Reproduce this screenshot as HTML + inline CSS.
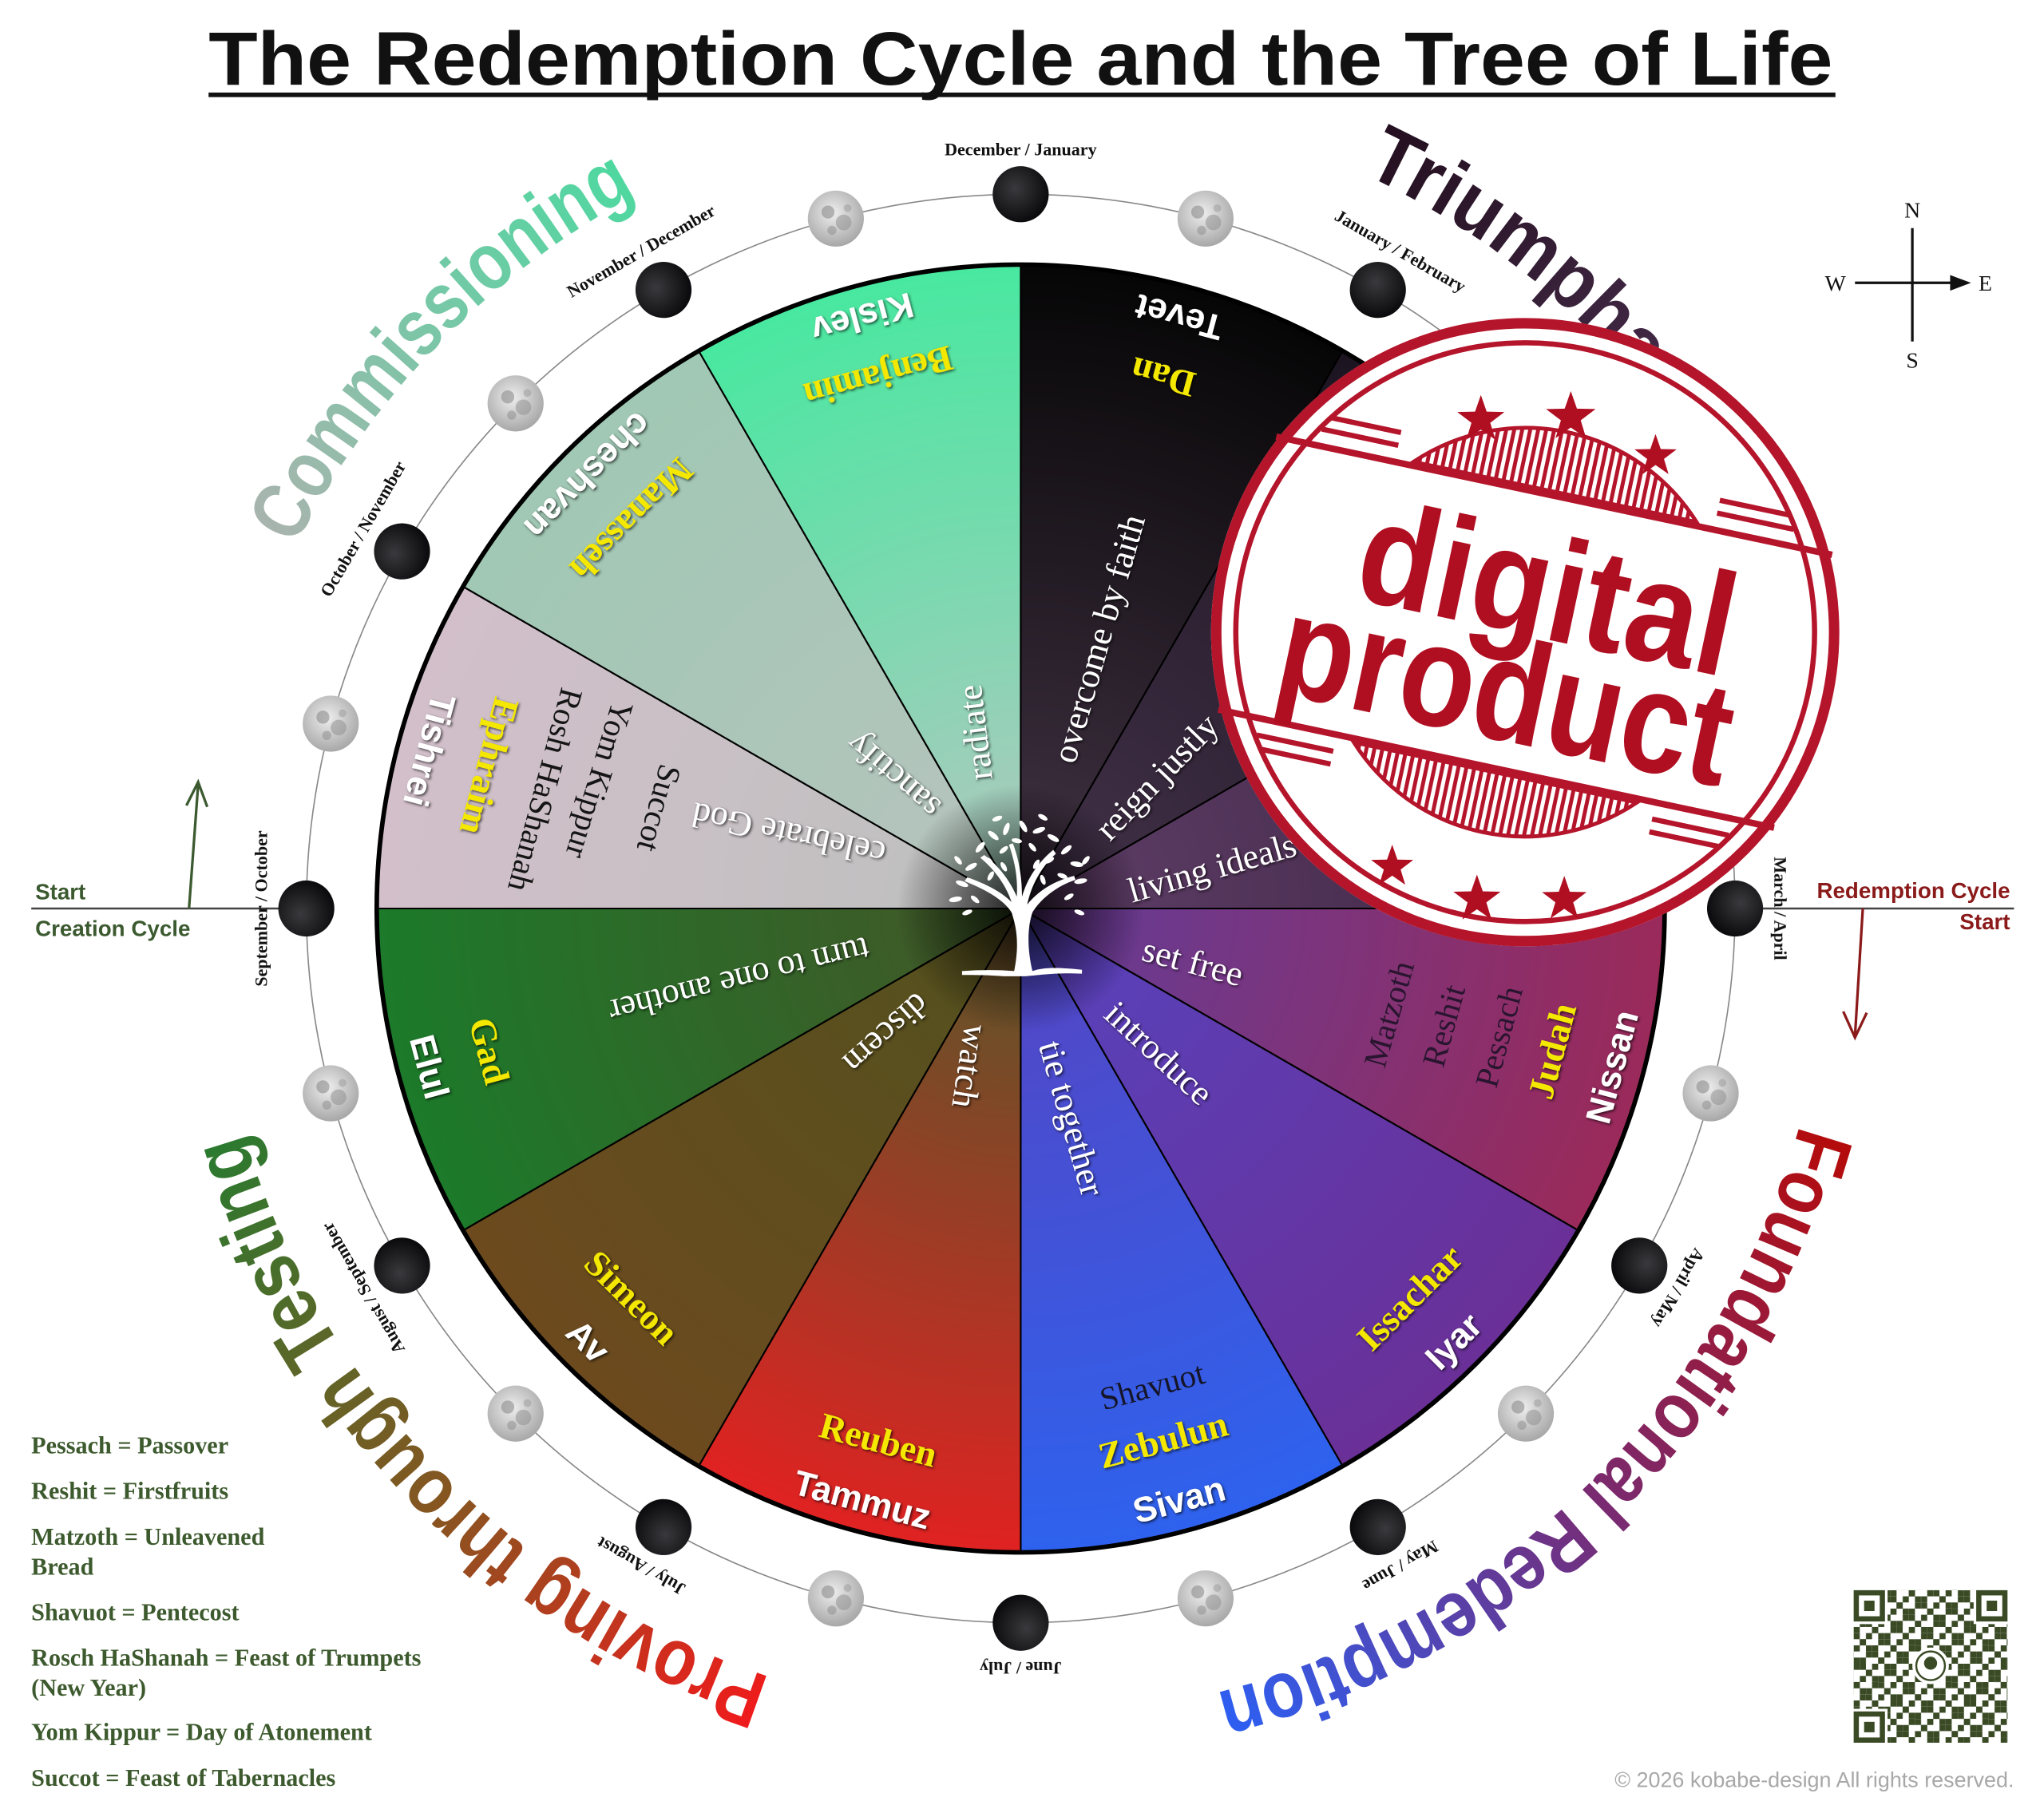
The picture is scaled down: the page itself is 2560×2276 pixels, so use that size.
<!DOCTYPE html>
<html><head><meta charset="utf-8"><style>
html,body{margin:0;padding:0;background:#fff;}
svg{display:block;}
</style></head><body>
<svg xmlns="http://www.w3.org/2000/svg" xmlns:xlink="http://www.w3.org/1999/xlink" width="2560" height="2276" viewBox="0 0 1568 1394" preserveAspectRatio="none">
<defs>
  <radialGradient id="g0" gradientUnits="userSpaceOnUse" cx="783" cy="697" r="494"><stop offset="0.15" stop-color="#3a2c3c"/><stop offset="1" stop-color="#060606"/></radialGradient>
  <radialGradient id="g1" gradientUnits="userSpaceOnUse" cx="783" cy="697" r="494"><stop offset="0.15" stop-color="#3e2e44"/><stop offset="1" stop-color="#1c1420"/></radialGradient>
  <radialGradient id="g2" gradientUnits="userSpaceOnUse" cx="783" cy="697" r="494"><stop offset="0.15" stop-color="#5a3a62"/><stop offset="1" stop-color="#3a2440"/></radialGradient>
  <radialGradient id="g3" gradientUnits="userSpaceOnUse" cx="783" cy="697" r="494"><stop offset="0.15" stop-color="#6a3a90"/><stop offset="1" stop-color="#9a2a5a"/></radialGradient>
  <radialGradient id="g4" gradientUnits="userSpaceOnUse" cx="783" cy="697" r="494"><stop offset="0.15" stop-color="#5a40b8"/><stop offset="1" stop-color="#6a3098"/></radialGradient>
  <radialGradient id="g5" gradientUnits="userSpaceOnUse" cx="783" cy="697" r="494"><stop offset="0.15" stop-color="#5048c8"/><stop offset="1" stop-color="#2e62ee"/></radialGradient>
  <radialGradient id="g6" gradientUnits="userSpaceOnUse" cx="783" cy="697" r="494"><stop offset="0.15" stop-color="#6a5028"/><stop offset="1" stop-color="#e02222"/></radialGradient>
  <radialGradient id="g7" gradientUnits="userSpaceOnUse" cx="783" cy="697" r="494"><stop offset="0.15" stop-color="#56501e"/><stop offset="1" stop-color="#6c4a1e"/></radialGradient>
  <radialGradient id="g8" gradientUnits="userSpaceOnUse" cx="783" cy="697" r="494"><stop offset="0.15" stop-color="#3e5a28"/><stop offset="1" stop-color="#1c7a2a"/></radialGradient>
  <radialGradient id="g9" gradientUnits="userSpaceOnUse" cx="783" cy="697" r="494"><stop offset="0.15" stop-color="#c0c0c0"/><stop offset="1" stop-color="#d2bfca"/></radialGradient>
  <radialGradient id="g10" gradientUnits="userSpaceOnUse" cx="783" cy="697" r="494"><stop offset="0.15" stop-color="#b4c4bc"/><stop offset="1" stop-color="#a0c8b4"/></radialGradient>
  <radialGradient id="g11" gradientUnits="userSpaceOnUse" cx="783" cy="697" r="494"><stop offset="0.15" stop-color="#a4ccbc"/><stop offset="1" stop-color="#48e8a0"/></radialGradient>
  <radialGradient id="dark" cx="0.5" cy="0.5" r="0.5"><stop offset="0" stop-color="#000" stop-opacity="0.85"/><stop offset="0.5" stop-color="#000" stop-opacity="0.45"/><stop offset="1" stop-color="#000" stop-opacity="0"/></radialGradient>
  <radialGradient id="dmoon" cx="0.4" cy="0.4" r="0.6"><stop offset="0" stop-color="#3a3a3e"/><stop offset="1" stop-color="#0c0c0e"/></radialGradient>
  <radialGradient id="lmoon" cx="0.45" cy="0.4" r="0.6"><stop offset="0" stop-color="#eeeeee"/><stop offset="1" stop-color="#a8a8a8"/></radialGradient>
  <g id="dm"><circle r="21.5" fill="url(#dmoon)"/></g>
  <g id="lm"><circle r="21.5" fill="url(#lmoon)"/><circle cx="-6" cy="-5" r="5" fill="#8c8c8c" opacity="0.6"/><circle cx="6" cy="3" r="6" fill="#8c8c8c" opacity="0.5"/><circle cx="-3" cy="9" r="3.5" fill="#8c8c8c" opacity="0.5"/><circle cx="9" cy="-8" r="3" fill="#999" opacity="0.5"/></g>
  <path id="arcC" d="M783,75 A622,622 0 1,1 783,1319 A622,622 0 1,1 783,75"/>
  <path id="arcF" d="M783,77 A620,620 0 1,1 783,1317 A620,620 0 1,1 783,77"/>
  <linearGradient id="tc" gradientUnits="userSpaceOnUse" x1="200" y1="400" x2="480" y2="130"><stop offset="0" stop-color="#a8b4ae"/><stop offset="1" stop-color="#4ed8a0"/></linearGradient>
  <linearGradient id="tt" gradientUnits="userSpaceOnUse" x1="1060" y1="110" x2="1330" y2="330"><stop offset="0" stop-color="#241020"/><stop offset="1" stop-color="#4a3050"/></linearGradient>
  <linearGradient id="tf" gradientUnits="userSpaceOnUse" x1="1400" y1="870" x2="950" y2="1320"><stop offset="0" stop-color="#b40c0c"/><stop offset="0.5" stop-color="#7a2a70"/><stop offset="1" stop-color="#2e5ef0"/></linearGradient>
  <linearGradient id="tp" gradientUnits="userSpaceOnUse" x1="570" y1="1320" x2="160" y2="880"><stop offset="0" stop-color="#ee1c1c"/><stop offset="0.45" stop-color="#8a5420"/><stop offset="1" stop-color="#2a7a30"/></linearGradient>
  <filter id="sh" x="-10%" y="-30%" width="120%" height="160%"><feDropShadow dx="1" dy="1" stdDeviation="1" flood-color="#000" flood-opacity="0.7"/></filter>
  <polygon id="star" points="0,-1 0.235,-0.324 0.951,-0.309 0.38,0.124 0.588,0.809 0,0.4 -0.588,0.809 -0.38,0.124 -0.951,-0.309 -0.235,-0.324"/>
  <pattern id="hatch" width="6" height="6" patternUnits="userSpaceOnUse"><rect width="3" height="6" fill="#b5152b"/></pattern>
  <pattern id="qa" width="14.1" height="14.1" patternUnits="userSpaceOnUse" x="1422" y="1220"><rect x="0" y="0" width="4.7" height="4.7" fill="#3a4a25"/><rect x="9.4" y="4.7" width="4.7" height="4.7" fill="#3a4a25"/><rect x="4.7" y="9.4" width="4.7" height="4.7" fill="#3a4a25"/></pattern>
  <pattern id="qb" width="18.8" height="18.8" patternUnits="userSpaceOnUse" x="1422" y="1220"><rect x="4.7" y="0" width="4.7" height="4.7" fill="#3a4a25"/><rect x="14.1" y="9.4" width="4.7" height="4.7" fill="#3a4a25"/><rect x="0" y="14.1" width="4.7" height="4.7" fill="#3a4a25"/><rect x="9.4" y="4.7" width="4.7" height="4.7" fill="#3a4a25"/></pattern>
</defs>

<text x="160" y="65" font-family="Liberation Sans, sans-serif" font-weight="bold" font-size="58" textLength="1246" lengthAdjust="spacingAndGlyphs" fill="#111">The Redemption Cycle and the Tree of Life</text>
<rect x="160" y="71" width="1248" height="3.5" fill="#111"/>

<circle cx="783" cy="697" r="548" fill="none" stroke="#888" stroke-width="1"/>

<line x1="24" y1="697" x2="235" y2="697" stroke="#444" stroke-width="1.5"/>
<line x1="1331" y1="697" x2="1545" y2="697" stroke="#444" stroke-width="1.5"/>
<path d="M145,697 L152,602 M143,618 L152,600 L159,619" fill="none" stroke="#3c5a30" stroke-width="2"/>
<path d="M1429,697 L1423,795 M1414,776 L1423,796 L1432,777" fill="none" stroke="#8b1a1a" stroke-width="2"/>
<g font-family="Liberation Sans, sans-serif" font-weight="bold" font-size="17">
<text x="27" y="690" fill="#3c5a30">Start</text>
<text x="27" y="718" fill="#3c5a30">Creation Cycle</text>
<text x="1542" y="689" fill="#8b1a1a" text-anchor="end">Redemption Cycle</text>
<text x="1542" y="713" fill="#8b1a1a" text-anchor="end">Start</text>
</g>

<g stroke="#000" stroke-width="1.3">
<path d="M783,697 L783,203 A494,494 0 0,1 1030,269.2 Z" fill="url(#g0)"/>
<path d="M783,697 L1030,269.2 A494,494 0 0,1 1210.8,450 Z" fill="url(#g1)"/>
<path d="M783,697 L1210.8,450 A494,494 0 0,1 1277,697 Z" fill="url(#g2)"/>
<path d="M783,697 L1277,697 A494,494 0 0,1 1210.8,944 Z" fill="url(#g3)"/>
<path d="M783,697 L1210.8,944 A494,494 0 0,1 1030,1124.8 Z" fill="url(#g4)"/>
<path d="M783,697 L1030,1124.8 A494,494 0 0,1 783,1191 Z" fill="url(#g5)"/>
<path d="M783,697 L783,1191 A494,494 0 0,1 536,1124.8 Z" fill="url(#g6)"/>
<path d="M783,697 L536,1124.8 A494,494 0 0,1 355.2,944 Z" fill="url(#g7)"/>
<path d="M783,697 L355.2,944 A494,494 0 0,1 289,697 Z" fill="url(#g8)"/>
<path d="M783,697 L289,697 A494,494 0 0,1 355.2,450 Z" fill="url(#g9)"/>
<path d="M783,697 L355.2,450 A494,494 0 0,1 536,269.2 Z" fill="url(#g10)"/>
<path d="M783,697 L536,269.2 A494,494 0 0,1 783,203 Z" fill="url(#g11)"/>
</g>
<circle cx="783" cy="697" r="494" fill="none" stroke="#000" stroke-width="3.5"/>
<circle cx="783" cy="697" r="95" fill="url(#dark)"/>

<g fill="#fff" stroke="none">
<path d="M778,745 C782,725 780,712 776,700 C770,690 755,682 740,676 L742,673 C756,678 768,684 776,692 C772,680 764,668 752,658 L755,656 C766,664 775,676 780,688 C781,672 778,660 774,648 L777,647 C782,660 784,674 784,688 C788,674 796,662 808,652 L810,655 C798,666 791,680 788,694 C796,684 808,676 824,672 L825,675 C810,680 798,690 792,700 C788,712 788,728 792,745 C800,742 812,742 830,744 L830,747 C810,746 798,748 786,749 L770,749 C758,748 748,748 738,748 L738,745 C752,744 766,744 778,745 Z"/>
<g>
<ellipse cx="745" cy="665" rx="5" ry="2" transform="rotate(-30 745 665)"/><ellipse cx="738" cy="678" rx="5" ry="2" transform="rotate(20 738 678)"/>
<ellipse cx="752" cy="650" rx="5" ry="2" transform="rotate(-50 752 650)"/><ellipse cx="762" cy="641" rx="5" ry="2" transform="rotate(40 762 641)"/>
<ellipse cx="772" cy="636" rx="5" ry="2" transform="rotate(-70 772 636)"/><ellipse cx="785" cy="634" rx="5" ry="2" transform="rotate(60 785 634)"/>
<ellipse cx="797" cy="637" rx="5" ry="2" transform="rotate(-20 797 637)"/><ellipse cx="808" cy="643" rx="5" ry="2" transform="rotate(30 808 643)"/>
<ellipse cx="818" cy="652" rx="5" ry="2" transform="rotate(-40 818 652)"/><ellipse cx="826" cy="663" rx="5" ry="2" transform="rotate(10 826 663)"/>
<ellipse cx="829" cy="676" rx="5" ry="2" transform="rotate(-10 829 676)"/><ellipse cx="733" cy="690" rx="5" ry="2" transform="rotate(-10 733 690)"/>
<ellipse cx="758" cy="660" rx="4" ry="1.8" transform="rotate(30 758 660)"/><ellipse cx="770" cy="652" rx="4" ry="1.8" transform="rotate(-40 770 652)"/>
<ellipse cx="792" cy="650" rx="4" ry="1.8" transform="rotate(50 792 650)"/><ellipse cx="805" cy="660" rx="4" ry="1.8" transform="rotate(-30 805 660)"/>
<ellipse cx="815" cy="672" rx="4" ry="1.8" transform="rotate(20 815 672)"/><ellipse cx="748" cy="690" rx="4" ry="1.8" transform="rotate(40 748 690)"/>
<ellipse cx="820" cy="688" rx="4" ry="1.8" transform="rotate(-30 820 688)"/><ellipse cx="760" cy="672" rx="4" ry="1.8" transform="rotate(-60 760 672)"/>
<ellipse cx="800" cy="675" rx="4" ry="1.8" transform="rotate(70 800 675)"/><ellipse cx="780" cy="645" rx="4" ry="1.8" transform="rotate(10 780 645)"/>
<ellipse cx="742" cy="700" rx="4" ry="1.8" transform="rotate(-20 742 700)"/><ellipse cx="828" cy="700" rx="4" ry="1.8" transform="rotate(20 828 700)"/>
<ellipse cx="765" cy="628" rx="4" ry="1.8" transform="rotate(-20 765 628)"/><ellipse cx="800" cy="627" rx="4" ry="1.8" transform="rotate(30 800 627)"/>
<ellipse cx="735" cy="660" rx="4" ry="1.8" transform="rotate(50 735 660)"/><ellipse cx="833" cy="660" rx="4" ry="1.8" transform="rotate(-50 833 660)"/>
<ellipse cx="770" cy="665" rx="4" ry="1.8" transform="rotate(60 770 665)"/><ellipse cx="795" cy="663" rx="4" ry="1.8" transform="rotate(-60 795 663)"/>
</g></g>

<g font-family="Liberation Sans, sans-serif" font-weight="bold" font-size="27" fill="#fff" text-anchor="middle" dominant-baseline="central" filter="url(#sh)">
<text x="904.6" y="243" transform="rotate(195 904.6 243)">Tevet</text>
<text x="1115.3" y="364.7" transform="rotate(225 1115.3 364.7)">Shevat</text>
<text x="1237" y="575.4" transform="rotate(255 1237 575.4)">Adar</text>
<text x="1237" y="818.6" transform="rotate(285 1237 818.6)">Nissan</text>
<text x="1115.3" y="1029.3" transform="rotate(315 1115.3 1029.3)">Iyar</text>
<text x="904.6" y="1151" transform="rotate(345 904.6 1151)">Sivan</text>
<text x="661.4" y="1151" transform="rotate(15 661.4 1151)">Tammuz</text>
<text x="450.7" y="1029.3" transform="rotate(45 450.7 1029.3)">Av</text>
<text x="329" y="818.6" transform="rotate(75 329 818.6)">Elul</text>
<text x="329" y="575.4" transform="rotate(105 329 575.4)">Tishrei</text>
<text x="450.7" y="364.7" transform="rotate(135 450.7 364.7)">cheshvan</text>
<text x="661.4" y="243" transform="rotate(165 661.4 243)">Kislev</text>
</g>
<g font-family="Liberation Serif, serif" font-weight="bold" font-size="28" fill="#f4e800" text-anchor="middle" dominant-baseline="central" filter="url(#sh)">
<text x="892.2" y="289.4" transform="rotate(195 892.2 289.4)">Dan</text>
<text x="1081.4" y="398.6" transform="rotate(225 1081.4 398.6)">Asher</text>
<text x="1190.6" y="587.8" transform="rotate(255 1190.6 587.8)">Naphtali</text>
<text x="1190.6" y="806.2" transform="rotate(285 1190.6 806.2)">Judah</text>
<text x="1081.4" y="995.4" transform="rotate(315 1081.4 995.4)">Issachar</text>
<text x="892.2" y="1104.6" transform="rotate(345 892.2 1104.6)">Zebulun</text>
<text x="673.8" y="1104.6" transform="rotate(15 673.8 1104.6)">Reuben</text>
<text x="484.6" y="995.4" transform="rotate(45 484.6 995.4)">Simeon</text>
<text x="375.4" y="806.2" transform="rotate(75 375.4 806.2)">Gad</text>
<text x="375.4" y="587.8" transform="rotate(105 375.4 587.8)">Ephraim</text>
<text x="484.6" y="398.6" transform="rotate(135 484.6 398.6)">Manasseh</text>
<text x="673.8" y="289.4" transform="rotate(165 673.8 289.4)">Benjamin</text>
</g>
<g font-family="Liberation Serif, serif" font-size="25" text-anchor="middle" dominant-baseline="central">
<text x="418.2" y="606" transform="rotate(105 418.2 606)" fill="#151515">Rosh HaShanah</text>
<text x="459.8" y="598.2" transform="rotate(107 459.8 598.2)" fill="#151515">Yom Kippur</text>
<text x="505.5" y="620" transform="rotate(105.5 505.5 620)" fill="#151515">Succot</text>
<text x="1150" y="795.4" transform="rotate(285 1150 795.4)" fill="#2a1530">Pessach</text>
<text x="1107.7" y="787" transform="rotate(285.5 1107.7 787)" fill="#2a1530">Reshit</text>
<text x="1065.6" y="778" transform="rotate(286 1065.6 778)" fill="#2a1530">Matzoth</text>
<text x="883.9" y="1063.4" transform="rotate(345 883.9 1063.4)" fill="#15152a">Shavuot</text>
</g>
<g font-family="Liberation Serif, serif" font-size="27" fill="#fff" text-anchor="middle" dominant-baseline="central" filter="url(#sh)">
<text x="748" y="562" transform="rotate(-97 748 562)">radiate</text>
<text x="843" y="490" transform="rotate(-74 843 490)">overcome by faith</text>
<text x="845" y="640" text-anchor="start" transform="rotate(-46 845 640)">reign justly</text>
<text x="866" y="684" text-anchor="start" transform="rotate(-16 866 684)">living ideals</text>
<text x="915" y="738" transform="rotate(15 915 738)">set free</text>
<text x="889" y="808" transform="rotate(43 889 808)">introduce</text>
<text x="822" y="858" transform="rotate(74 822 858)">tie together</text>
<text x="744" y="818" transform="rotate(99 744 818)">watch</text>
<text x="680" y="793" transform="rotate(138 680 793)">discern</text>
<text x="567" y="752" transform="rotate(166 567 752)">turn to one another</text>
<text x="605" y="640" transform="rotate(192 605 640)">celebrate God</text>
<text x="685" y="595" transform="rotate(221 685 595)">sanctify</text>
</g>

<g>
<g transform="rotate(0 783 697)"><use href="#dm" x="783" y="149"/></g>
<g transform="rotate(30 783 697)"><use href="#dm" x="783" y="149"/></g>
<g transform="rotate(60 783 697)"><use href="#dm" x="783" y="149"/></g>
<g transform="rotate(90 783 697)"><use href="#dm" x="783" y="149"/></g>
<g transform="rotate(120 783 697)"><use href="#dm" x="783" y="149"/></g>
<g transform="rotate(150 783 697)"><use href="#dm" x="783" y="149"/></g>
<g transform="rotate(180 783 697)"><use href="#dm" x="783" y="149"/></g>
<g transform="rotate(210 783 697)"><use href="#dm" x="783" y="149"/></g>
<g transform="rotate(240 783 697)"><use href="#dm" x="783" y="149"/></g>
<g transform="rotate(270 783 697)"><use href="#dm" x="783" y="149"/></g>
<g transform="rotate(300 783 697)"><use href="#dm" x="783" y="149"/></g>
<g transform="rotate(330 783 697)"><use href="#dm" x="783" y="149"/></g>
<use href="#lm" x="924.8" y="167.7"/><use href="#lm" x="1170.5" y="309.5"/><use href="#lm" x="1312.3" y="555.2"/>
<use href="#lm" x="1312.3" y="838.8"/><use href="#lm" x="1170.5" y="1084.5"/><use href="#lm" x="924.8" y="1226.3"/>
<use href="#lm" x="641.2" y="1226.3"/><use href="#lm" x="395.5" y="1084.5"/><use href="#lm" x="253.7" y="838.8"/>
<use href="#lm" x="253.7" y="555.2"/><use href="#lm" x="395.5" y="309.5"/><use href="#lm" x="641.2" y="167.7"/>
</g>
<g font-family="Liberation Serif, serif" font-weight="bold" font-size="13.5" fill="#111" text-anchor="middle">
<text x="783" y="119" transform="rotate(0 783 697)">December / January</text>
<text x="783" y="119" transform="rotate(30 783 697)">January / February</text>
<text x="783" y="119" transform="rotate(60 783 697)">February / March</text>
<text x="783" y="119" transform="rotate(90 783 697)">March / April</text>
<text x="783" y="119" transform="rotate(120 783 697)">April / May</text>
<text x="783" y="119" transform="rotate(150 783 697)">May / June</text>
<text x="783" y="119" transform="rotate(180 783 697)">June / July</text>
<text x="783" y="119" transform="rotate(210 783 697)">July / August</text>
<text x="783" y="119" transform="rotate(240 783 697)">August / September</text>
<text x="783" y="119" transform="rotate(270 783 697)">September / October</text>
<text x="783" y="119" transform="rotate(300 783 697)">October / November</text>
<text x="783" y="119" transform="rotate(330 783 697)">November / December</text>
</g>

<g font-family="Liberation Sans, sans-serif" font-weight="bold" font-size="62">
<text fill="url(#tc)"><textPath href="#arcC" startOffset="3219" textLength="382" lengthAdjust="spacingAndGlyphs">Commissioning</textPath></text>
<text fill="url(#tt)"><textPath href="#arcC" startOffset="271" textLength="320" lengthAdjust="spacingAndGlyphs">Triumphant</textPath></text>
<text fill="url(#tf)"><textPath href="#arcF" startOffset="1142" textLength="655" lengthAdjust="spacingAndGlyphs">Foundational Redemption</textPath></text>
<text fill="url(#tp)"><textPath href="#arcF" startOffset="2143" textLength="605" lengthAdjust="spacingAndGlyphs">Proving through Testing</textPath></text>
</g>

<g stroke="#111" stroke-width="2" fill="none">
<line x1="1467" y1="175" x2="1467" y2="262"/><line x1="1423" y1="217" x2="1500" y2="217"/>
</g>
<polygon points="1496,211 1512,217 1496,223" fill="#111"/>
<g font-family="Liberation Serif, serif" font-size="17" fill="#111" text-anchor="middle">
<text x="1467" y="167">N</text><text x="1467" y="282">S</text><text x="1408" y="223">W</text><text x="1523" y="223">E</text>
</g>

<g>
<circle cx="1170" cy="485" r="241" fill="#fff"/>
<circle cx="1170" cy="485" r="237" fill="none" stroke="#b5152b" stroke-width="8"/>
<circle cx="1170" cy="485" r="222" fill="none" stroke="#b5152b" stroke-width="4"/>
<g transform="rotate(12 1170 485)">
<path d="M1059,375 A155,155 0 0,1 1281,375 Z" fill="url(#hatch)" stroke="#b5152b" stroke-width="3"/>
<path d="M1059,595 A155,155 0 0,0 1281,595 Z" fill="url(#hatch)" stroke="#b5152b" stroke-width="3"/>
<line x1="952" y1="378" x2="1388" y2="378" stroke="#b5152b" stroke-width="5"/>
<line x1="952" y1="592" x2="1388" y2="592" stroke="#b5152b" stroke-width="5"/>
<line x1="990" y1="355" x2="1045" y2="355" stroke="#b5152b" stroke-width="4"/><line x1="985" y1="365" x2="1045" y2="365" stroke="#b5152b" stroke-width="4"/>
<line x1="1295" y1="355" x2="1350" y2="355" stroke="#b5152b" stroke-width="4"/><line x1="1295" y1="365" x2="1355" y2="365" stroke="#b5152b" stroke-width="4"/>
<line x1="985" y1="605" x2="1045" y2="605" stroke="#b5152b" stroke-width="4"/><line x1="990" y1="615" x2="1045" y2="615" stroke="#b5152b" stroke-width="4"/>
<line x1="1295" y1="605" x2="1355" y2="605" stroke="#b5152b" stroke-width="4"/><line x1="1295" y1="615" x2="1350" y2="615" stroke="#b5152b" stroke-width="4"/>
<text x="1180" y="487" font-family="Liberation Sans, sans-serif" font-weight="bold" font-size="112" fill="#b00f22" text-anchor="middle" textLength="292" lengthAdjust="spacingAndGlyphs">digital</text>
<text x="1165" y="570" font-family="Liberation Sans, sans-serif" font-weight="bold" font-size="112" fill="#b00f22" text-anchor="middle" textLength="352" lengthAdjust="spacingAndGlyphs">product</text>
</g>
<g fill="#b00f22">
<use href="#star" transform="translate(1136,322) scale(19)"/>
<use href="#star" transform="translate(1205,320) scale(20)"/>
<use href="#star" transform="translate(1270,350) scale(17)"/>
<use href="#star" transform="translate(1068,665) scale(17)"/>
<use href="#star" transform="translate(1133,690) scale(19)"/>
<use href="#star" transform="translate(1200,690) scale(18)"/>
</g>
</g>

<g font-family="Liberation Serif, serif" font-size="18.5" font-weight="bold" fill="#3d5a2e">
<text x="24" y="1115">Pessach = Passover</text>
<text x="24" y="1150">Reshit = Firstfruits</text>
<text x="24" y="1185">Matzoth = Unleavened</text>
<text x="24" y="1208">Bread</text>
<text x="24" y="1243">Shavuot = Pentecost</text>
<text x="24" y="1278">Rosch HaShanah = Feast of Trumpets</text>
<text x="24" y="1301">(New Year)</text>
<text x="24" y="1335">Yom Kippur = Day of Atonement</text>
<text x="24" y="1370">Succot = Feast of Tabernacles</text>
</g>

<rect x="1422" y="1220" width="118" height="117" fill="url(#qa)"/>
<rect x="1422" y="1220" width="118" height="117" fill="url(#qb)"/>
<g fill="#fff"><rect x="1420" y="1218" width="28" height="28"/><rect x="1514" y="1218" width="28" height="28"/><rect x="1420" y="1311" width="28" height="28"/><circle cx="1481" cy="1278" r="14"/></g>
<g fill="none" stroke="#3a4a25" stroke-width="4">
<rect x="1424" y="1222" width="20" height="20"/><rect x="1518" y="1222" width="20" height="20"/><rect x="1424" y="1315" width="20" height="20"/>
</g>
<g fill="#3a4a25"><rect x="1430" y="1228" width="8" height="8"/><rect x="1524" y="1228" width="8" height="8"/><rect x="1430" y="1321" width="8" height="8"/></g>
<circle cx="1481" cy="1278" r="11" fill="none" stroke="#3a4a25" stroke-width="1.5"/>
<circle cx="1481" cy="1276" r="5" fill="#3a4a25"/>

<text x="1545" y="1371" font-family="Liberation Sans, sans-serif" font-size="16.5" fill="#a8a8a8" text-anchor="end">© 2026 kobabe-design All rights reserved.</text>
</svg>
</body></html>
